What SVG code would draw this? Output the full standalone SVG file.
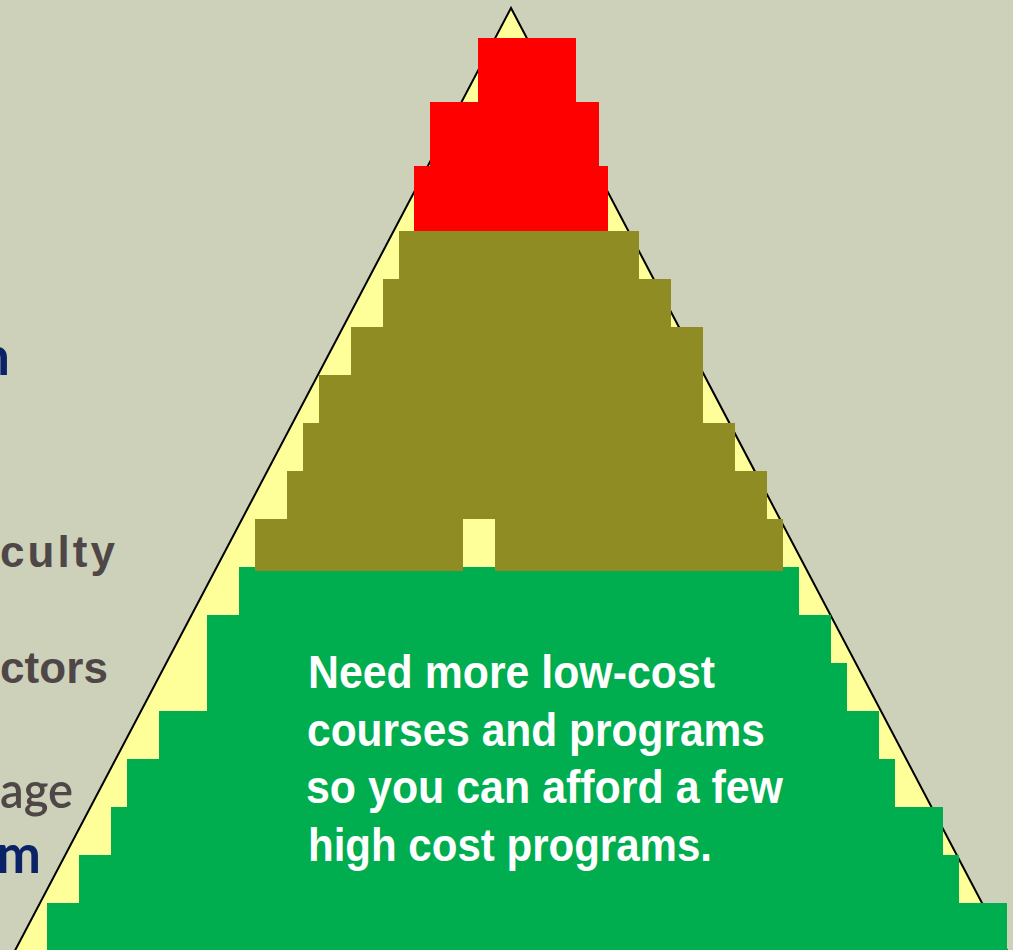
<svg xmlns="http://www.w3.org/2000/svg" width="1013" height="950" viewBox="0 0 1013 950">
  <style>
    .bg { fill: #CDD1BA; }
    .tri { fill: #FFFF99; stroke: #000000; stroke-width: 2; }
    .red { fill: #FF0000; }
    .olive { fill: #8E8C22; }
    .green { fill: #00AD4F; }
    .side-gray { font-family: "Liberation Sans", Arial, sans-serif; font-weight: bold; font-size: 44px; fill: #4F4747; }
    .side-lato { font-family: Lato, "Liberation Sans", sans-serif; font-weight: 600; font-size: 50px; fill: #4F4747; }
    .side-blue { font-family: Lato, "Liberation Sans", sans-serif; font-weight: bold; font-size: 53px; fill: #0A2366; }
    .msg { font-family: "Liberation Sans Narrow", "Liberation Sans", Arial, sans-serif; font-weight: bold; font-size: 46px; fill: #FFFFFF; }
  </style>

  <rect class="bg" x="0" y="0" width="1013" height="950"/>

  <!-- side labels, running off the left edge -->
  <g id="side-labels">
    <text class="side-blue" x="10" y="375" text-anchor="end">n</text>
    <text class="side-gray" x="0" y="567" textLength="115" lengthAdjust="spacing">culty</text>
    <text class="side-gray" x="0" y="683" textLength="108" lengthAdjust="spacing">ctors</text>
    <text class="side-lato" x="0" y="808" textLength="73" lengthAdjust="spacingAndGlyphs">age</text>
    <text class="side-blue" x="41" y="873" text-anchor="end">m</text>
  </g>

  <!-- outer triangle -->
  <g id="triangle">
    <polygon class="tri" points="511,8 1012,960 10,960"/>
  </g>

  <!-- bottom tier: low-cost courses and programs -->
  <g id="tier-low">
    <rect class="green" x="239" y="567" width="560" height="48"/>
    <rect class="green" x="207" y="615" width="624" height="48"/>
    <rect class="green" x="207" y="663" width="640" height="48"/>
    <rect class="green" x="159" y="711" width="720" height="48"/>
    <rect class="green" x="127" y="759" width="768" height="48"/>
    <rect class="green" x="111" y="807" width="832" height="48"/>
    <rect class="green" x="79" y="855" width="880" height="48"/>
    <rect class="green" x="47" y="903" width="960" height="47"/>
    <text class="msg" x="308" y="688" textLength="407" lengthAdjust="spacingAndGlyphs">Need more low-cost</text>
    <text class="msg" x="307" y="745.5" textLength="458" lengthAdjust="spacingAndGlyphs">courses and programs</text>
    <text class="msg" x="306" y="803" textLength="477" lengthAdjust="spacingAndGlyphs">so you can afford a few</text>
    <text class="msg" x="308" y="860.5" textLength="404" lengthAdjust="spacingAndGlyphs">high cost programs.</text>
  </g>

  <!-- middle tier -->
  <g id="tier-mid">
    <rect class="olive" x="399" y="231" width="240" height="48"/>
    <rect class="olive" x="383" y="279" width="288" height="48"/>
    <rect class="olive" x="351" y="327" width="352" height="48"/>
    <rect class="olive" x="319" y="375" width="384" height="48"/>
    <rect class="olive" x="303" y="423" width="432" height="48"/>
    <rect class="olive" x="287" y="471" width="480" height="48"/>
    <rect class="olive" x="255" y="519" width="208" height="52"/>
    <rect class="olive" x="495" y="519" width="288" height="52"/>
  </g>

  <!-- top tier: high-cost programs -->
  <g id="tier-high">
    <rect class="red" x="478" y="38" width="98" height="64"/>
    <rect class="red" x="430" y="102" width="169" height="64"/>
    <rect class="red" x="414" y="166" width="194" height="65"/>
  </g>
</svg>
